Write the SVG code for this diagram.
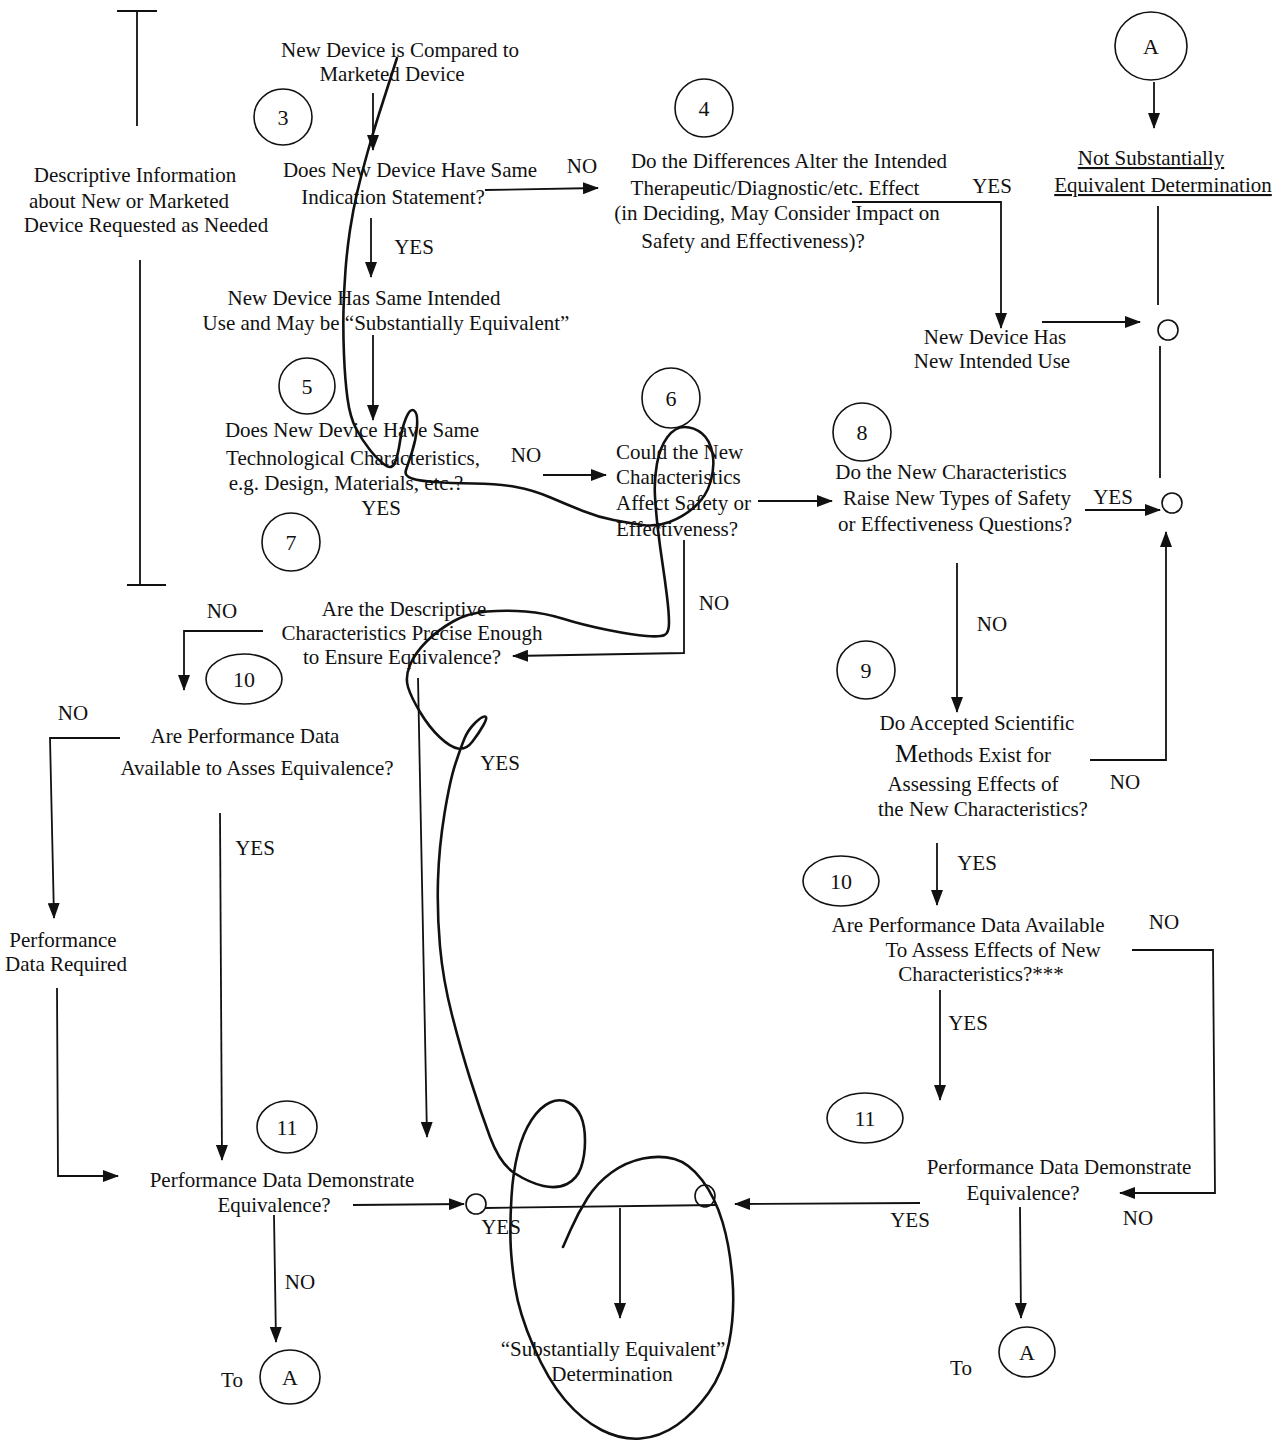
<svg xmlns="http://www.w3.org/2000/svg" width="1278" height="1443" viewBox="0 0 1278 1443">
<style>
.t{font-family:"Liberation Serif","Times New Roman",serif;font-size:21px;fill:#111;text-anchor:middle}
.l{text-anchor:start}
.n{font-family:"Liberation Serif","Times New Roman",serif;font-size:22px;fill:#111;text-anchor:middle}
.c{fill:none;stroke:#111;stroke-width:1.6}
.e{fill:none;stroke:#111;stroke-width:1.6}
.a{fill:none;stroke:#111;stroke-width:1.8;marker-end:url(#ah)}
.p{fill:none;stroke:#111;stroke-width:1.8}
.s{fill:none;stroke:#111;stroke-width:2.6;stroke-linecap:round;stroke-linejoin:round}
</style>
<defs>
<marker id="ah" markerWidth="16" markerHeight="12" refX="15" refY="6" orient="auto" markerUnits="userSpaceOnUse">
<path d="M0,0 L16,6 L0,12 Z" fill="#111"/>
</marker>
</defs>
<rect width="1278" height="1443" fill="#fff"/>

<g id="bracket">
<path class="p" d="M117,11 H157 M137,11 V126 M140,260 V585 M127,585 H166"/>
</g>
<g id="descriptive-info">
<text class="t" x="135" y="182">Descriptive Information</text>
<text class="t" x="129" y="208">about New or Marketed</text>
<text class="t" x="146" y="232">Device Requested as Needed</text>
</g>
<g id="start">
<text class="t" x="400" y="57">New Device is Compared to</text>
<text class="t" x="392" y="81">Marketed Device</text>
</g>
<g id="step3"><ellipse class="c" cx="283" cy="117" rx="29" ry="28"/><text class="n" x="283" y="125">3</text></g>
<g id="q-indication">
<text class="t" x="410" y="177">Does New Device Have Same</text>
<text class="t" x="393" y="204">Indication Statement?</text>
</g>
<g id="same-use">
<text class="t" x="364" y="305">New Device Has Same Intended</text>
<text class="t" x="386" y="330">Use and May be “Substantially Equivalent”</text>
</g>
<g id="step5"><ellipse class="c" cx="307" cy="386" rx="28" ry="28"/><text class="n" x="307" y="394">5</text></g>
<g id="q-tech">
<text class="t" x="352" y="437">Does New Device Have Same</text>
<text class="t" x="353" y="465">Technological Characteristics,</text>
<text class="t" x="346" y="490">e.g. Design, Materials, etc.?</text>
</g>
<g id="step7"><ellipse class="c" cx="291" cy="542" rx="29" ry="29"/><text class="n" x="291" y="550">7</text></g>
<g id="step4"><ellipse class="c" cx="704" cy="108" rx="29" ry="29"/><text class="n" x="704" y="116">4</text></g>
<g id="q-differences">
<text class="t" x="789" y="168">Do the Differences Alter the Intended</text>
<text class="t" x="775" y="195">Therapeutic/Diagnostic/etc. Effect</text>
<text class="t" x="777" y="220">(in Deciding, May Consider Impact on</text>
<text class="t" x="753" y="248">Safety and Effectiveness)?</text>
</g>
<g id="new-use">
<text class="t" x="995" y="344">New Device Has</text>
<text class="t" x="992" y="368">New Intended Use</text>
</g>
<g id="connA-top"><ellipse class="c" cx="1151" cy="46" rx="36" ry="34"/><text class="n" x="1151" y="54">A</text></g>
<g id="nse">
<text class="t" x="1151" y="165" text-decoration="underline">Not Substantially</text>
<text class="t" x="1163" y="192" text-decoration="underline">Equivalent Determination</text>
</g>
<g id="junction1"><circle class="c" cx="1168" cy="330" r="10"/></g>
<g id="junction2"><circle class="c" cx="1172" cy="503" r="10"/></g>
<g id="step6"><ellipse class="c" cx="671" cy="398" rx="29" ry="30"/><text class="n" x="671" y="406">6</text></g>
<g id="q-affect">
<text class="t l" x="616" y="459">Could the New</text>
<text class="t l" x="616" y="484">Characteristics</text>
<text class="t l" x="616" y="510">Affect Safety or</text>
<text class="t l" x="616" y="536">Effectiveness?</text>
</g>
<g id="step8"><ellipse class="c" cx="862" cy="432" rx="29" ry="29"/><text class="n" x="862" y="440">8</text></g>
<g id="q-raise">
<text class="t" x="951" y="479">Do the New Characteristics</text>
<text class="t" x="957" y="505">Raise New Types of Safety</text>
<text class="t" x="955" y="531">or Effectiveness Questions?</text>
</g>
<g id="step9"><ellipse class="c" cx="866" cy="670" rx="29" ry="29"/><text class="n" x="866" y="678">9</text></g>
<g id="q-methods">
<text class="t" x="977" y="730">Do Accepted Scientific</text>
<text class="t" x="973" y="762"><tspan font-size="26">M</tspan>ethods Exist for</text>
<text class="t" x="973" y="791">Assessing Effects of</text>
<text class="t" x="983" y="816">the New Characteristics?</text>
</g>
<g id="step10-right"><ellipse class="e" cx="841" cy="881" rx="38" ry="25"/><text class="n" x="841" y="889">10</text></g>
<g id="q-perf-right">
<text class="t" x="968" y="932">Are Performance Data Available</text>
<text class="t" x="993" y="957">To Assess Effects of New</text>
<text class="t" x="981" y="981">Characteristics?***</text>
</g>
<g id="step11-right"><ellipse class="e" cx="865" cy="1118" rx="38" ry="25"/><text class="n" x="865" y="1126">11</text></g>
<g id="q-demo-right">
<text class="t" x="1059" y="1174">Performance Data Demonstrate</text>
<text class="t" x="1023" y="1200">Equivalence?</text>
</g>
<g id="connA-br"><ellipse class="c" cx="1027" cy="1352" rx="28" ry="25"/><text class="n" x="1027" y="1360">A</text><text class="t" x="961" y="1375">To</text></g>
<g id="q-descriptive">
<text class="t" x="404" y="616">Are the Descriptive</text>
<text class="t" x="412" y="640">Characteristics Precise Enough</text>
<text class="t" x="402" y="664">to Ensure Equivalence?</text>
</g>
<g id="step10-left"><ellipse class="e" cx="244" cy="679" rx="38" ry="25"/><text class="n" x="244" y="687">10</text></g>
<g id="q-perf-left">
<text class="t" x="245" y="743">Are Performance Data</text>
<text class="t" x="257" y="775">Available to Asses Equivalence?</text>
</g>
<g id="perf-required">
<text class="t" x="63" y="947">Performance</text>
<text class="t" x="66" y="971">Data Required</text>
</g>
<g id="step11-left"><ellipse class="c" cx="287" cy="1127" rx="30" ry="26"/><text class="n" x="287" y="1135">11</text></g>
<g id="q-demo-left">
<text class="t" x="282" y="1187">Performance Data Demonstrate</text>
<text class="t" x="274" y="1212">Equivalence?</text>
</g>
<g id="junction3"><circle class="c" cx="476" cy="1204" r="10"/></g>
<g id="junction4"><ellipse class="c" cx="705" cy="1196" rx="10" ry="11"/></g>
<g id="se">
<text class="t" x="613" y="1356">“Substantially Equivalent”</text>
<text class="t" x="612" y="1381">Determination</text>
</g>
<g id="connA-bl"><ellipse class="c" cx="290" cy="1377" rx="30" ry="27"/><text class="n" x="290" y="1385">A</text><text class="t" x="232" y="1387">To</text></g>

<g id="connectors">
<path class="a" d="M373,93 V150"/>
<path class="a" d="M485,190 L598,188"/>
<path class="a" d="M371,218 V277"/>
<path class="a" d="M373,335 V420"/>
<path class="a" d="M543,475 H606"/>
<path class="a" d="M852,202 H1001 V328"/>
<path class="a" d="M1042,322 H1140"/>
<path class="a" d="M1154,82 V128"/>
<path class="p" d="M1158,206 V305"/>
<path class="p" d="M1160,346 V478"/>
<path class="a" d="M1085,510 H1160"/>
<path class="a" d="M758,501 H832"/>
<path class="a" d="M957,563 V712"/>
<path class="a" d="M1090,760 H1166 V532"/>
<path class="a" d="M684,540 V653 L513,656"/>
<path class="a" d="M937,843 V905"/>
<path class="a" d="M1132,950 H1213 L1215,1193 H1120"/>
<path class="a" d="M940,990 V1100"/>
<path class="a" d="M920,1203 L735,1204"/>
<path class="a" d="M1020,1207 L1021,1318"/>
<path class="a" d="M263,631 H184 V690"/>
<path class="a" d="M120,738 H50 L54,918"/>
<path class="a" d="M57,988 L58,1176 H118"/>
<path class="a" d="M220,813 L222,1160"/>
<path class="a" d="M418,678 L427,1137"/>
<path class="a" d="M353,1205 L464,1204"/>
<path class="p" d="M485,1208 L716,1205"/>
<path class="a" d="M620,1208 V1318"/>
<path class="a" d="M274,1215 L276,1342"/>
</g>
<g id="labels">
<text class="t" x="582" y="173">NO</text>
<text class="t" x="414" y="254">YES</text>
<text class="t" x="526" y="462">NO</text>
<text class="t" x="381" y="515">YES</text>
<text class="t" x="992" y="193">YES</text>
<text class="t" x="1113" y="504">YES</text>
<text class="t" x="992" y="631">NO</text>
<text class="t" x="1125" y="789">NO</text>
<text class="t" x="977" y="870">YES</text>
<text class="t" x="1164" y="929">NO</text>
<text class="t" x="968" y="1030">YES</text>
<text class="t" x="910" y="1227">YES</text>
<text class="t" x="1138" y="1225">NO</text>
<text class="t" x="714" y="610">NO</text>
<text class="t" x="222" y="618">NO</text>
<text class="t" x="73" y="720">NO</text>
<text class="t" x="500" y="770">YES</text>
<text class="t" x="255" y="855">YES</text>
<text class="t" x="501" y="1234">YES</text>
<text class="t" x="300" y="1289">NO</text>
</g>
<g id="scribble">
<path class="s" d="M397,58 Q385,95 379,114 Q373,133 367.5,152.5 Q362,172 357.5,191 Q353,210 350,230 Q347,250 345.5,270 Q344,290 343.5,310 Q343,330 344,355 Q345,380 347.5,398.5 Q350,417 356,428.5 Q362,440 370,450 Q378,460 385,465 Q392,470 395,462.5 Q398,455 400,441.5 Q402,428 406,418 Q410,408 414,410.5 Q418,413 417,426.5 Q416,440 412,452 Q408,464 406,470 Q404,476 412,478.5 Q420,481 434.5,482 Q449,483 474,483.5 Q499,484 516,487 Q533,490 550.5,497.5 Q568,505 583,511 Q598,517 613.5,520 Q629,523 642.5,525 Q656,527 669.5,522 Q683,517 694.5,507 Q706,497 710.5,482 Q715,467 712.5,453.5 Q710,440 702,433.5 Q694,427 684.5,427 Q675,427 667.5,437 Q660,447 657,463.5 Q654,480 655,496.5 Q656,513 658,530 Q660,547 662.5,563.5 Q665,580 667,596.5 Q669,613 669,623 Q669,633 664.5,635 Q660,637 646.5,636 Q633,635 608,630 Q583,625 564,619 Q545,613 525.5,611.5 Q506,610 487,611.5 Q468,613 453,621.5 Q438,630 426.5,641.5 Q415,653 410,665 Q405,677 408,687 Q411,697 420,712 Q429,727 439.5,737 Q450,747 458,748.5 Q466,750 472.5,741.5 Q479,733 483.5,725 Q488,717 485,716.5 Q482,716 475,723 Q468,730 464.5,738.5 Q461,747 455.5,763.5 Q450,780 444.5,813.5 Q439,847 438,880 Q437,913 440,946.5 Q443,980 452,1015 Q461,1050 470.5,1080 Q480,1110 490,1137 Q500,1164 515,1173.5 Q530,1183 543.5,1186 Q557,1189 567,1184 Q577,1179 581,1167.5 Q585,1156 585,1141 Q585,1126 581,1116.5 Q577,1107 568.5,1102.5 Q560,1098 550,1102.5 Q540,1107 531.5,1120 Q523,1133 518,1152.5 Q513,1172 511.5,1196.5 Q510,1221 510.5,1240.5 Q511,1260 515,1286.5 Q519,1313 533.5,1346.5 Q548,1380 565,1400 Q582,1420 601.5,1430 Q621,1440 640.5,1438.5 Q660,1437 677,1425 Q694,1413 708.5,1393 Q723,1373 729,1343 Q735,1313 732.5,1280 Q730,1247 722.5,1222 Q715,1197 702,1180 Q689,1163 674.5,1159 Q660,1155 643,1158.5 Q626,1162 611.5,1172.5 Q597,1183 587.5,1198 Q578,1213 570.5,1230 L563,1247"/>
</g>
</svg>
